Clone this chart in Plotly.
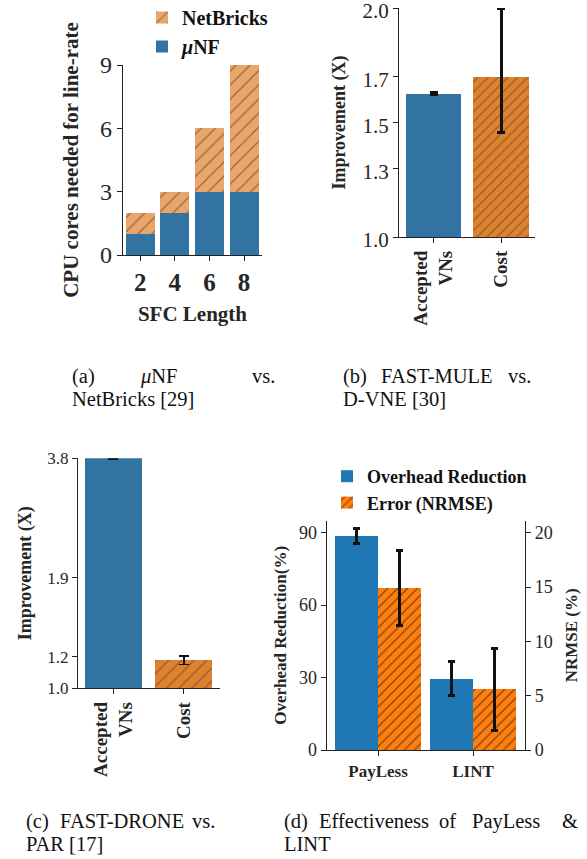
import plotly.graph_objects as go

W, H = 587, 859

# ---------------- data ----------------
sfc_lengths = ["2", "4", "6", "8"]
netbricks_cores = [2, 3, 6, 9]
unf_cores = [1, 2, 3, 3]

mule_categories = ["Accepted<br>VNs", "Cost"]
mule_improvement = [1.625, 1.70]
mule_err_plus = [0.004, 0.30]
mule_err_minus = [0.004, 0.245]

drone_categories = ["Accepted<br>VNs", "Cost"]
drone_improvement = [3.80, 1.178]
drone_err = [0.012, 0.03]

tools = ["PayLess", "LINT"]
overhead_reduction = [88.6, 29.7]
overhead_err = [3.2, 7.0]
nrmse = [14.9, 5.6]
nrmse_err = [3.45, 3.76]

# ---------------- style ----------------
FONT = "Liberation Serif"
TXT = "#262626"
BLUE_SNS = "#3274A1"
ORANGE_SNS = "#E1812C"
ORANGE_LIGHT = "#EAA66A"
BLUE_MPL = "#1F77B4"
ORANGE_MPL = "#FF7F0E"


def px_x(x):
    return x / W


def px_y(y):
    return 1 - y / H


fig = go.Figure()

# ---- panel (a) ----
fig.add_trace(go.Bar(
    x=sfc_lengths, y=netbricks_cores, name="<b>NetBricks</b>", width=0.84,
    marker=dict(color=ORANGE_LIGHT, line=dict(width=0),
                pattern=dict(shape="/", fgcolor="#3a2a1a", size=10, solidity=0.13,
                             fillmode="overlay")),
    xaxis="x", yaxis="y", legend="legend"))
fig.add_trace(go.Bar(
    x=sfc_lengths, y=unf_cores, name="<b><i>μ</i>NF</b>", width=0.84,
    marker=dict(color=BLUE_SNS, line=dict(width=0)),
    xaxis="x", yaxis="y", legend="legend"))

# ---- panel (b) ----
fig.add_trace(go.Bar(
    x=mule_categories, y=mule_improvement, width=0.82, showlegend=False,
    marker=dict(color=[BLUE_SNS, ORANGE_SNS], line=dict(width=0),
                pattern=dict(shape=["", "/"], fgcolor="#111", size=7, solidity=0.2,
                             fillmode="overlay")),
    error_y=dict(type="data", array=mule_err_plus, arrayminus=mule_err_minus,
                 color="#111", thickness=3, width=4),
    xaxis="x2", yaxis="y2"))

# ---- panel (c) ----
fig.add_trace(go.Bar(
    x=drone_categories, y=drone_improvement, width=0.81, showlegend=False,
    marker=dict(color=[BLUE_SNS, ORANGE_SNS], line=dict(width=0),
                pattern=dict(shape=["", "/"], fgcolor="#111", size=9, solidity=0.17,
                             fillmode="overlay")),
    error_y=dict(type="data", array=drone_err, color="#111", thickness=1.6, width=5),
    xaxis="x3", yaxis="y3"))

# ---- panel (d) ----
idx = list(range(len(tools)))
fig.add_trace(go.Bar(
    x=idx, y=overhead_reduction, name="<b>Overhead Reduction</b>",
    width=0.4526, offset=-0.4526,
    marker=dict(color=BLUE_MPL, line=dict(width=0)),
    error_y=dict(type="data", array=overhead_err, color="#111", thickness=3, width=3.5),
    xaxis="x4", yaxis="y4", legend="legend2"))
fig.add_trace(go.Bar(
    x=idx, y=nrmse, name="<b>Error (NRMSE)</b>",
    width=0.4526, offset=0,
    marker=dict(color=ORANGE_MPL, line=dict(width=0),
                pattern=dict(shape="/", fgcolor="#111", size=7, solidity=0.2,
                             fillmode="overlay")),
    error_y=dict(type="data", array=nrmse_err, color="#111", thickness=3, width=3.5),
    xaxis="x4", yaxis="y5", legend="legend2"))

tickfont = lambda s: dict(family=FONT, size=s, color=TXT)
axis_common = dict(showline=True, linecolor="#222", linewidth=1.3, showgrid=False,
                   zeroline=False, ticks="outside", ticklen=5, tickcolor="#222", tickwidth=1.2,
                   automargin=False, ticklabeloverflow="allow")

fig.update_layout(
    width=W, height=H, margin=dict(l=0, r=0, t=0, b=0, pad=0, autoexpand=False),
    paper_bgcolor="white", plot_bgcolor="rgba(0,0,0,0)",
    barmode="overlay", bargap=0,
    font=dict(family=FONT, color=TXT),
    # panel a
    xaxis=dict(domain=[px_x(123), px_x(262)], anchor="y", type="category",
               range=[-0.5, 3.52], tickfont=tickfont(25),
               title=dict(text="<b>SFC Length</b>", font=tickfont(21), standoff=11),
               tickprefix="<b>", ticksuffix="</b>", **axis_common),
    yaxis=dict(domain=[px_y(255), px_y(65)], anchor="x", range=[0, 9],
               tickvals=[0, 3, 6, 9], tickfont=tickfont(24),
               tickprefix="<b>", ticksuffix="</b>",
               title=dict(text="<b>CPU cores needed for line-rate</b>", font=tickfont(21), standoff=15),
               **axis_common),
    # panel b
    xaxis2=dict(domain=[px_x(399), px_x(535)], anchor="y2", type="category",
                range=[-0.51, 1.5], tickangle=-90, tickfont=tickfont(19),
                tickprefix="<b>", ticksuffix="</b>", **axis_common),
    yaxis2=dict(domain=[px_y(237), px_y(8)], anchor="x2", range=[1.0, 2.0],
                tickvals=[1.0, 1.3, 1.5, 1.7, 2.0], ticktext=["1.0", "1.3", "1.5", "1.7", "2.0"],
                tickfont=tickfont(21), tickprefix="<b>", ticksuffix="</b>", ticklabelshift=3,
                title=dict(text="<b>Improvement (X)</b>", font=tickfont(18), standoff=12),
                **axis_common),
    # panel c
    xaxis3=dict(domain=[px_x(78), px_x(220)], anchor="y3", type="category",
                range=[-0.5, 1.513], tickangle=-90, tickfont=tickfont(19),
                tickprefix="<b>", ticksuffix="</b>", **axis_common),
    yaxis3=dict(domain=[px_y(688.3), px_y(458.3)], anchor="x3", type="log",
                range=[0, 0.5798], tickvals=[1.0, 1.2, 1.9, 3.8],
                ticktext=["1.0", "1.2", "1.9", "3.8"], tickfont=tickfont(17),
                tickprefix="<b>", ticksuffix="</b>",
                title=dict(text="<b>Improvement (X)</b>", font=tickfont(18), standoff=10),
                **axis_common),
    # panel d
    xaxis4=dict(domain=[px_x(326.7), px_x(525)], anchor="y4", range=[-0.54, 1.547],
                tickvals=idx, ticktext=[f"<b>{t}</b>" for t in tools], tickfont=tickfont(17),
                **axis_common),
    yaxis4=dict(domain=[px_y(750), px_y(520.7)], anchor="x4", range=[0, 95],
                tickvals=[0, 30, 60, 90], tickfont=tickfont(18),
                tickprefix="<b>", ticksuffix="</b>",
                title=dict(text="<b>Overhead Reduction(%)</b>", font=tickfont(17), standoff=7),
                **axis_common),
    yaxis5=dict(overlaying="y4", anchor="x4", side="right", range=[0, 95 * 20 / 90],
                tickvals=[0, 5, 10, 15, 20], tickfont=tickfont(18),
                tickprefix="<b>", ticksuffix="</b>",
                title=dict(text="<b>NRMSE (%)</b>", font=tickfont(17), standoff=13),
                **axis_common),
    legend=dict(x=px_x(142), y=px_y(-2), xanchor="left", yanchor="top",
                font=dict(family=FONT, size=20, color="#111"), bgcolor="rgba(0,0,0,0)",
                tracegroupgap=6, traceorder="normal", itemwidth=30),
    legend2=dict(x=px_x(327), y=px_y(458), xanchor="left", yanchor="top",
                 font=dict(family=FONT, size=18, color="#111"), bgcolor="rgba(0,0,0,0)",
                 traceorder="normal", itemwidth=30),
)

# ---- captions ----
CAP = dict(family=FONT, size=20.5, color="#111")


def cap(text, x, y, anchor="left"):
    fig.add_annotation(text=text, x=px_x(x), y=px_y(y), xref="paper", yref="paper",
                       xanchor=anchor, yanchor="middle", showarrow=False, font=CAP)


cap("(a)", 70, 376)
cap("<i>μ</i>NF", 138, 376)
cap("vs.", 277, 376, "right")
cap("NetBricks [29]", 70, 399)
cap("(b)", 341, 376)
cap("FAST-MULE", 379, 376)
cap("vs.", 533, 376, "right")
cap("D-VNE [30]", 341, 399)
cap("(c)", 24, 821)
cap("FAST-DRONE", 58, 821)
cap("vs.", 217, 821, "right")
cap("PAR [17]", 24, 844)
cap("(d)", 282, 821)
cap("Effectiveness", 317, 821)
cap("of", 437, 821)
cap("PayLess", 470, 821)
cap("&", 580, 821, "right")
cap("LINT", 282, 844)

# the page body gets no default margin so the figure sits at the window's corner
fig.write_html("out.html", config={"displayModeBar": False},
               post_script="document.body.style.margin='0px';")
